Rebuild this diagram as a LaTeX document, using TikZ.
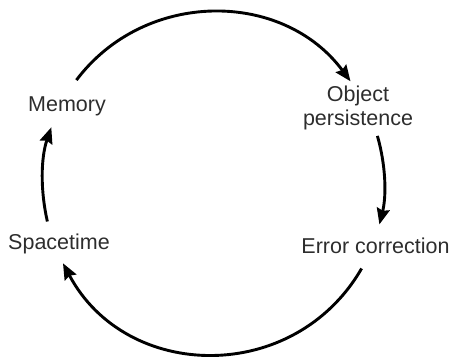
\documentclass[tikz,border=0pt]{standalone}
\usepackage{fontspec}
\setmainfont{Liberation Sans}
\usetikzlibrary{arrows.meta, calc}
\definecolor{textgray}{RGB}{45, 45, 45}

\begin{document}
\begin{tikzpicture}[x=1pt, y=1pt,
  stagetext/.style={font=\fontsize{21.5}{24}\selectfont, text=textgray, align=center, inner sep=0pt},
  looparrow/.style={-{Stealth[length=16pt, width=13pt, inset=2pt]}, line width=2.9pt}]
  \useasboundingbox (0,0) rectangle (451,358);

  % Stages
  \node[stagetext] (memory) at (67, 252) {Memory};
  \node[stagetext] (object) at (358, 250) {Object\\persistence};
  \node[stagetext] (error) at (375.5, 112) {Error correction};
  \node[stagetext] (spacetime) at (59, 114) {Spacetime};

  % Cycle
  \draw[looparrow] ([shift={(9.4,25.9)}]memory.center) to[out=53, in=126.5, looseness=1.06] ([shift={(-7.5,26.7)}]object.center);
  \draw[looparrow] ([shift={(19.4,-27.9)}]object.center) to[out=-74, in=76, looseness=0.87] ([shift={(3.9,21.6)}]error.center);
  \draw[looparrow] ([shift={(-13.9,-22.5)}]error.center) to[out=-120, in=-62, looseness=1.15] ([shift={(4,-19.3)}]spacetime.center);
  \draw[looparrow] ([shift={(-11.6,22.5)}]spacetime.center) to[out=103, in=251, looseness=0.87] ([shift={(-15.7,-21.3)}]memory.center);
\end{tikzpicture}
\end{document}
